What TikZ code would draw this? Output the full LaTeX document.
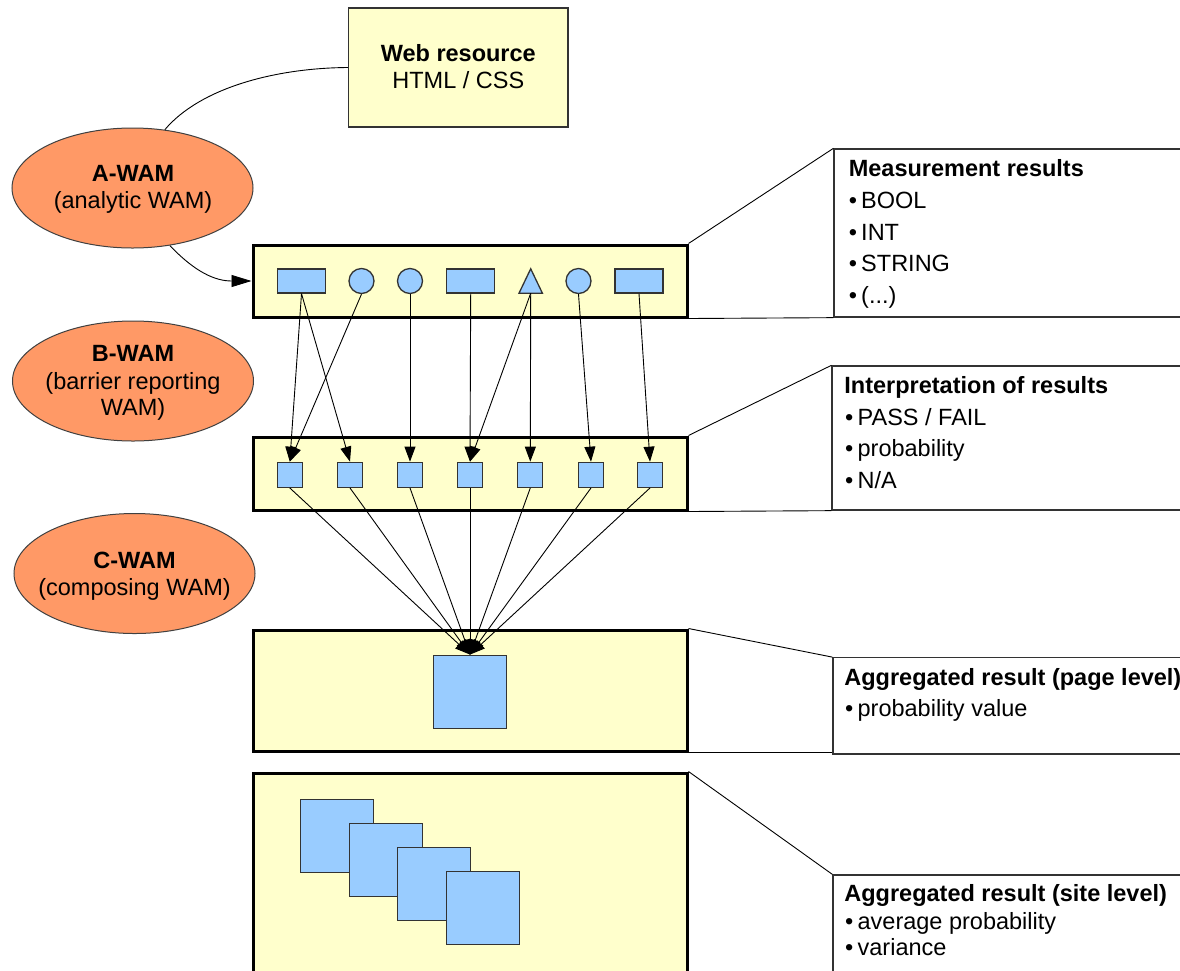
\documentclass[tikz,border=0pt]{standalone}
\usepackage{fontspec}
\setmainfont{Liberation Sans}
\usetikzlibrary{arrows.meta,shapes.geometric}
\definecolor{ora}{HTML}{FF9966}
\definecolor{yel}{HTML}{FFFFCC}
\definecolor{blu}{HTML}{99CCFF}
\definecolor{edgec}{HTML}{333333}
\begin{document}
\begin{tikzpicture}[x=1pt,y=-1pt,
  every node/.style={font=\fontsize{23.5}{27}\selectfont, inner sep=0pt},
  wam/.style={ellipse, draw=black!75, line width=1pt, fill=ora, minimum width=241pt, minimum height=120pt},
  rowbox/.style={rectangle, draw=black, line width=3pt, fill=yel, minimum width=434pt},
  webbox/.style={rectangle, draw=edgec, line width=1.3pt, fill=yel, minimum width=219.5pt, minimum height=119pt},
  callbox/.style={rectangle, draw=edgec, line width=1.3pt, fill=white},
  bshape/.style={draw=edgec, line width=1.3pt, fill=blu},
  brect/.style={rectangle, bshape, minimum width=48pt, minimum height=24pt},
  bcirc/.style={circle, bshape, minimum size=25pt},
  bsq/.style={rectangle, bshape, minimum size=25pt},
  bbig/.style={rectangle, bshape, minimum size=73pt},
  conn/.style={draw=black, line width=0.9pt},
  arr/.style={conn, -{Triangle[length=15pt,width=11pt]}},
  bigarr/.style={conn, -{Triangle[length=20pt,width=12pt]}},
  lbl/.style={anchor=base},
  ltxt/.style={anchor=base west}
]
\useasboundingbox (0,0) rectangle (1180,970);
\clip (0,0) rectangle (1180,970);
\fill[white] (0,0) rectangle (1180,970);

% row boxes
\node[rowbox, minimum height=72pt] (row1) at (470,281) {};
\node[rowbox, minimum height=73pt] (row2) at (470,473.5) {};
\node[rowbox, minimum height=121pt] (row3) at (470,690.5) {};
\node[rowbox, minimum height=217pt] (row4) at (470,881.5) {};

% callouts
\node[callbox, minimum width=356pt, minimum height=168pt] (meas) at (1012,233) {};
\node[callbox, minimum width=358pt, minimum height=144pt] (interp) at (1011,438) {};
\node[callbox, minimum width=357pt, minimum height=96.3pt] (page) at (1011.5,705.9) {};
\node[callbox, minimum width=357pt, minimum height=120pt] (site) at (1011.5,935) {};

\draw[conn] (row1.north east) -- (meas.north west);
\draw[conn] (row1.south east) -- (meas.south west);
\draw[conn] (row2.north east) -- (interp.north west);
\draw[conn] (row2.south east) -- (interp.south west);
\draw[conn] (row3.north east) -- (page.north west);
\draw[conn] (row3.south east) -- (row3.south east -| page.west);
\draw[conn] (row4.north east) -- (site.north west);

% callout texts
\node[ltxt] (mt) at (848.6,176.7) {\bfseries Measurement results};
\node[ltxt] (mb1) at (848.6,208.3) {•\hspace{0.18em}BOOL};
\node[ltxt] (mb2) at (848.6,240) {•\hspace{0.18em}INT};
\node[ltxt] (mb3) at (848.6,271.7) {•\hspace{0.18em}STRING};
\node[ltxt] (mb4) at (848.6,303.4) {•\hspace{0.18em}(...)};

\node[ltxt] (it) at (844.2,393.3) {\bfseries Interpretation of results};
\node[ltxt] (ib1) at (845,425) {•\hspace{0.18em}PASS / FAIL};
\node[ltxt] (ib2) at (845,456.7) {•\hspace{0.18em}probability};
\node[ltxt] (ib3) at (845,488.3) {•\hspace{0.18em}N/A};

\node[ltxt] (pt) at (844.2,685) {\bfseries Aggregated result (page level)};
\node[ltxt] (pb1) at (845,716.7) {•\hspace{0.18em}probability value};

\node[ltxt] (st) at (844.2,901.7) {\bfseries Aggregated result (site level)};
\node[ltxt] (sb1) at (845,929) {•\hspace{0.18em}average probability};
\node[ltxt] (sb2) at (845,955) {•\hspace{0.18em}variance};

% web resource
\node[webbox] (web) at (458.3,67.5) {};
\node[lbl] (webt1) at (458.3,61.7) {\bfseries Web resource};
\node[lbl] (webt2) at (458.3,88.3) {HTML / CSS};

% WAM ellipses
\node[wam] (awam) at (132.5,188) {};
\node[lbl] (awt1) at (133,181.7) {\bfseries A-WAM};
\node[lbl] (awt2) at (133,208.3) {(analytic WAM)};

\node[wam] (bwam) at (133,381) {};
\node[lbl] (bwt1) at (133,361.7) {\bfseries B-WAM};
\node[lbl] (bwt2) at (133,389.5) {(barrier reporting};
\node[lbl] (bwt3) at (133,415.7) {WAM)};

\node[wam] (cwam) at (134.5,573.5) {};
\node[lbl] (cwt1) at (134.5,568.3) {\bfseries C-WAM};
\node[lbl] (cwt2) at (134.5,595) {(composing WAM)};

\draw[conn] (awam.61) .. controls (200,88) and (275,68) .. (web.west);
\draw[bigarr] (awam.-57) .. controls (195,272) and (215,281) .. (row1.west);

% row 1 shapes
\node[brect] (m1) at (301.5,281) {};
\node[bcirc] (m2) at (361.5,281) {};
\node[bcirc] (m3) at (410,281) {};
\node[brect] (m4) at (470.7,281) {};
\node[minimum width=23pt, minimum height=24pt] (m5) at (530.7,281) {};
\draw[bshape, line join=miter] (m5.south west) -- (m5.north) -- (m5.south east) -- cycle;
\node[bcirc] (m6) at (578.5,281) {};
\node[brect] (m7) at (639,281) {};

% row 2 squares
\node[bsq] (s1) at (289.8,474.8) {};
\node[bsq] (s2) at (350,474.8) {};
\node[bsq] (s3) at (410,474.8) {};
\node[bsq] (s4) at (470,474.8) {};
\node[bsq] (s5) at (530.3,474.8) {};
\node[bsq] (s6) at (591,474.8) {};
\node[bsq] (s7) at (650,474.8) {};

% big square
\node[bbig] (big) at (470,691.7) {};

% site squares
\node[bbig] (q1) at (337.3,835.7) {};
\node[bbig] (q2) at (385.8,859.8) {};
\node[bbig] (q3) at (434.2,884.2) {};
\node[bbig] (q4) at (482.8,908.3) {};

% edges row1 -> row2
\draw[arr] (m1.south) -- (s1.north);
\draw[arr] (m1.south) -- (s2.north);
\draw[arr] (m2.south) -- (s1.north);
\draw[arr] (m3.south) -- (s3.north);
\draw[arr] (m4.south) -- (s4.north);
\draw[arr] (m5.south) -- (s4.north);
\draw[arr] (m5.south) -- (s5.north);
\draw[arr] (m6.south) -- (s6.north);
\draw[arr] (m7.south) -- (s7.north);

% edges row2 -> big
\foreach \s in {s1,s2,s3,s4,s5,s6,s7}
  \draw[arr] (\s.south) -- (big.north);
\end{tikzpicture}
\end{document}
